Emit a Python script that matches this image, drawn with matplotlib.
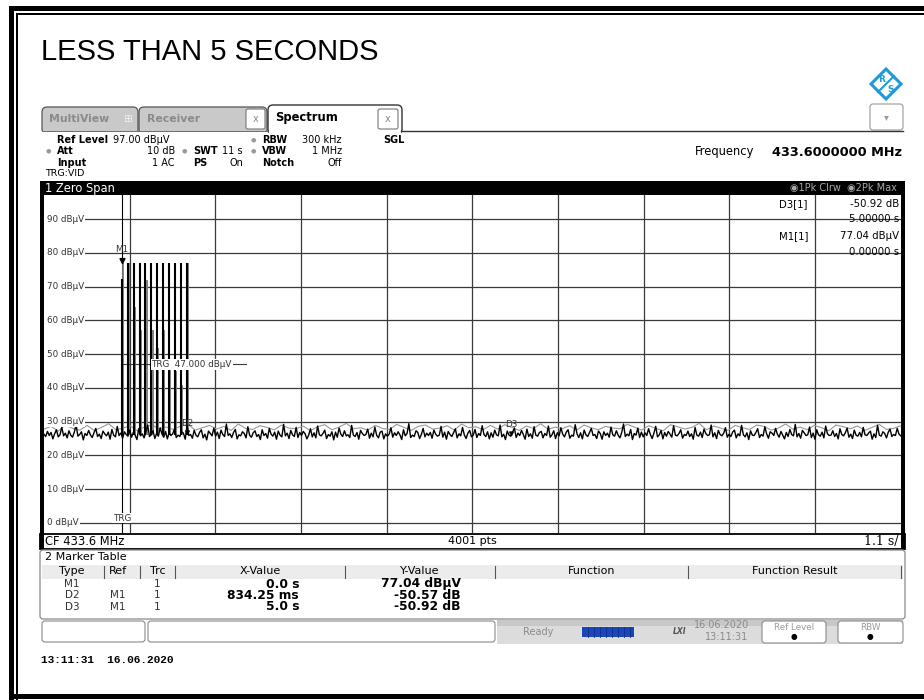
import matplotlib
matplotlib.use("Agg")
import matplotlib.pyplot as plt
from matplotlib.patches import Rectangle, FancyBboxPatch, Polygon
from matplotlib.path import Path

# ------------------------------------------------------------------ data
t_start, t_stop = -1.0, 10.0
ref_level, level_bottom = 97.0, -3.0
grid_levels = [0, 10, 20, 30, 40, 50, 60, 70, 80, 90]
grid_level_labels = ["0 dBµV", "10 dBµV", "20 dBµV", "30 dBµV", "40 dBµV",
                     "50 dBµV", "60 dBµV", "70 dBµV", "80 dBµV", "90 dBµV"]
time_grid = [0.1, 1.2, 2.3, 3.4, 4.5, 5.6, 6.7, 7.8, 8.9]

trigger_time = 0.0
trigger_level = 47.0

pulse_times = [0.0, 0.076, 0.152, 0.228, 0.303, 0.379, 0.455, 0.530,
               0.606, 0.682, 0.758, 0.834]
pulse_peak_clrw = [72.1, 77.0, 77.0, 77.0, 77.0, 77.0, 77.0, 77.0,
                   77.0, 77.0, 77.0, 77.0]
pulse_peak_max = [77.0, 77.0, 64.0, 57.0, 72.0, 57.0, 51.7, 57.0,
                  48.0, 45.0, 41.0, 77.0]
pulse_base = 26.0

noise_clrw = [
    26.3, 25.6, 27.1, 25.9, 26.8, 24.9, 26.4, 27.6, 25.5, 26.1, 28.4, 25.8, 26.6, 25.2, 27.3, 26.0, 25.4, 26.9, 29.1, 25.7, 26.2, 27.0, 24.6, 26.5,
    25.9, 27.4, 26.1, 25.3, 26.7, 28.0, 25.6, 26.3, 25.0, 27.2, 26.4, 25.8, 26.9, 24.8, 27.7, 26.0, 25.5, 28.6, 25.9, 26.6, 25.1, 27.0, 26.2, 25.7,
    27.5, 25.4, 26.8, 26.0, 24.7, 27.9, 25.8, 26.4, 25.2, 26.9, 29.0, 25.6, 26.1, 27.3, 25.0, 26.5, 25.7, 28.2, 26.3, 25.4, 27.1, 24.9, 26.7, 25.9,
    26.4, 27.8, 25.3, 26.0, 25.6, 27.0, 26.6, 24.8, 28.8, 25.9, 26.2, 25.1, 27.4, 26.0, 25.5, 26.8, 27.6, 25.2, 26.3, 24.6, 27.2, 26.5, 25.8, 28.1,
    25.7, 26.9, 25.0, 27.5, 26.2, 25.6, 29.3, 25.9, 26.4, 25.3, 26.8, 27.7, 24.9, 26.1, 25.8, 27.0, 26.5, 25.2, 28.5, 26.0, 25.4, 26.7, 27.3, 25.6,
    26.2, 24.7, 27.6, 25.9, 26.5, 25.1, 28.0, 26.3, 25.7, 26.9, 24.8, 27.2, 26.0, 25.5, 29.2, 25.8, 26.6, 25.0, 27.4, 26.1, 25.6, 28.3, 25.3, 26.8,
    25.9, 27.1, 26.4, 24.9, 26.0, 27.9, 25.5, 26.7, 25.2, 28.7, 26.1, 25.8, 26.5, 27.5, 25.0, 26.2, 25.7, 27.0, 24.6, 26.9, 25.4, 28.1, 26.3, 25.6,
    27.3, 25.8, 26.1, 25.3, 28.9, 26.0, 25.6, 26.8, 24.8, 27.4, 26.5, 25.9, 26.2, 27.8, 25.1, 26.6, 25.5, 28.4, 26.0, 25.2, 26.9, 27.2, 24.9, 26.4,
    25.7, 26.3, 28.2, 25.4, 26.7, 25.9, 27.0, 26.1, 24.7, 27.6, 25.8, 26.5, 29.4, 25.3, 26.0, 25.6, 27.3, 26.8, 25.0, 26.2, 28.0, 25.5, 26.6, 25.9,
    26.8, 25.1, 27.5, 26.3, 25.7, 26.0, 28.6, 25.4, 26.9, 24.8, 27.1, 26.2, 25.6, 26.7, 27.9, 25.2, 26.4, 25.8, 28.3, 26.1, 25.0, 26.6, 27.4, 25.5,
    26.0, 27.7, 25.3, 26.5, 25.9, 28.8, 26.2, 25.6, 27.0, 24.9, 26.7, 25.4, 27.5, 26.1, 25.8, 29.0, 25.5, 26.3, 24.7, 27.2, 26.0, 25.7, 26.9, 28.1,
    25.3, 26.6, 25.9, 27.4, 26.2, 24.8, 27.8, 25.6, 26.4, 25.1, 28.5, 26.0, 25.7, 26.8, 27.1, 25.2, 26.5, 25.9, 28.7, 25.4, 26.1, 27.3, 25.0, 26.7,
    25.8, 28.2, 26.3, 25.5, 26.9, 27.6, 25.1, 26.0, 25.7, 29.1, 26.4, 25.3, 26.7, 24.9, 27.5, 26.1, 25.6, 26.8, 28.0, 25.9, 26.2, 25.0, 27.2, 26.5,
    24.8, 27.0, 25.9, 26.6, 25.4, 28.4, 26.1, 25.7, 27.3, 26.0, 25.2, 26.8, 29.3, 25.6, 26.3, 25.8, 27.7, 24.7, 26.5, 26.0, 28.1, 25.3, 26.9, 25.5,
    26.7, 25.9, 27.9, 26.2, 25.0, 26.6, 28.6, 25.5, 26.1, 27.4, 24.9, 26.8, 25.7, 27.1, 26.3, 25.4, 28.8, 26.0, 25.8, 26.5, 27.6, 25.1, 26.2, 25.9,
    27.2, 25.6, 26.4, 24.8, 28.3, 26.0, 25.7, 26.9, 25.3, 27.8, 26.5, 25.9, 26.1, 29.0, 25.5, 26.7, 25.0, 27.4, 26.2, 25.8, 26.6, 28.2, 25.4, 26.3,
    25.6, 26.9, 27.5, 25.2, 26.4, 25.8, 28.9, 26.1, 25.5, 26.7, 24.7, 27.3, 26.0, 25.9, 26.8, 27.9, 25.3, 26.2, 25.7, 28.5, 26.4, 25.1, 27.0, 26.6,
    25.9, 28.0, 26.3, 25.4, 27.1, 26.0, 24.9, 26.8, 25.6, 27.7, 26.2, 25.8, 29.2, 25.5, 26.5, 25.1, 27.4, 26.7, 25.9, 26.1, 28.4, 25.3, 26.6, 24.8,
    27.6, 26.1, 25.7, 26.9, 25.2, 28.7, 26.4, 25.9, 26.0, 27.3, 25.6, 26.5, 24.9, 27.9, 26.2, 25.8, 26.7, 28.1, 25.4, 26.3, 25.0, 27.5, 26.0, 25.7,
    26.8, 25.5, 28.3, 26.1, 25.9, 26.6, 27.2, 24.8, 26.4, 25.3, 28.9, 26.0, 25.7, 27.0, 26.5, 25.2, 26.9, 27.8, 25.6, 26.2, 25.9, 28.0, 26.3, 25.8,
]
noise_max = [
    27.8, 28.6, 27.2, 29.1, 28.0, 27.5, 28.9, 27.4, 28.3, 29.4, 27.6, 28.1, 28.8, 27.3, 28.5, 29.0, 27.9, 28.4, 27.7, 28.7,
    29.2, 27.5, 28.2, 28.9, 27.8, 28.6, 27.4, 29.3, 28.0, 27.7, 28.8, 28.3, 27.6, 29.0, 28.1, 27.9, 28.7, 27.3, 28.5, 29.1,
    27.6, 28.4, 29.5, 27.9, 28.2, 27.5, 28.9, 28.0, 27.7, 29.2, 28.3, 27.4, 28.6, 29.0, 27.8, 28.1, 28.8, 27.5, 29.3, 28.2,
    28.5, 27.6, 28.9, 27.8, 29.1, 28.3, 27.4, 28.7, 28.0, 29.4, 27.7, 28.4, 27.9, 28.8, 27.5, 29.0, 28.2, 27.6, 28.6, 28.1,
    27.9, 29.2, 28.4, 27.5, 28.8, 28.0, 27.3, 29.1, 28.5, 27.8, 28.3, 29.5, 27.6, 28.7, 28.1, 27.4, 28.9, 28.2, 27.7, 29.0,
    28.6, 27.5, 28.1, 29.3, 27.8, 28.4, 27.6, 28.9, 28.2, 27.3, 29.0, 28.5, 27.9, 28.7, 27.4, 28.3, 29.2, 27.7, 28.0, 28.8,
]

marker_names = ["M1", "D2", "D3"]
marker_refs = ["", "M1", "M1"]
marker_trc = ["1", "1", "1"]
marker_times = [0.0, 0.83425, 5.0]
marker_x_text = ["0.0 s", "834.25 ms", "5.0 s"]
marker_y_text = ["77.04 dBµV", "-50.57 dB", "-50.92 dB"]
marker_levels = [77.04, 77.04 - 50.57, 77.04 - 50.92]

# ------------------------------------------------------------------ figure
W, H = 924, 700
fig = plt.figure(figsize=(W / 100, H / 100), dpi=100)
fig.patch.set_facecolor("white")

bg = fig.add_axes([0, 0, 1, 1], zorder=0)
bg.set_xlim(0, W); bg.set_ylim(H, 0); bg.axis("off")
fg = fig.add_axes([0, 0, 1, 1], zorder=5)
fg.set_xlim(0, W); fg.set_ylim(H, 0); fg.axis("off")

SANS = "DejaVu Sans"


def rect(a, x0, y0, x1, y1, fc="black", ec="none", lw=0, z=1):
    a.add_patch(Rectangle((x0, y0), x1 - x0, y1 - y0, facecolor=fc,
                          edgecolor=ec, linewidth=lw, zorder=z))


def rbox(a, x0, y0, x1, y1, fc="white", ec="#888888", lw=0.8, r=3, z=2):
    a.add_patch(FancyBboxPatch((x0, y0), x1 - x0, y1 - y0,
                               boxstyle=f"round,pad=0,rounding_size={r}",
                               facecolor=fc, edgecolor=ec, linewidth=lw, zorder=z))


def txt(a, x, y, s, size=7, ha="left", weight="normal", color="black",
        family=SANS, z=6, **kw):
    a.text(x, y, s, fontsize=size, ha=ha, va="center", fontweight=weight,
           color=color, family=family, zorder=z, **kw)


# outer frame
rect(bg, 9, 6, 14, 700)
rect(bg, 9, 6, 924, 11)
rect(bg, 16, 13, 18, 700)
rect(bg, 16, 13, 924, 15)
rect(bg, 9, 694, 924, 699)

# title
txt(bg, 41, 52, "LESS THAN 5 SECONDS", size=21, family="Liberation Sans")

# R&S logo
logo_c = "#1e9bd7"
bg.add_patch(Polygon([(886, 69), (901, 84), (886, 99), (871, 84)], closed=True,
                     fill=False, edgecolor=logo_c, linewidth=2.2, zorder=3))
bg.plot([878, 894], [92, 76], color=logo_c, lw=1.5, zorder=3)
txt(bg, 882, 79, "R", size=6.5, ha="center", weight="bold", color=logo_c)
txt(bg, 891, 89, "S", size=6.5, ha="center", weight="bold", color=logo_c)

# dropdown
rbox(bg, 870, 104, 903, 130, ec="#9a9a9a")
txt(bg, 886, 117, "▾", size=7, ha="center", color="#9a9a9a")

# tabs
rbox(bg, 42, 107, 138, 134, fc="#c9c9c9", ec="#555555", lw=0.9, r=5)
txt(bg, 49, 119, "MultiView", size=7.8, weight="bold", color="#8a8a8a")
txt(bg, 127, 119, "⊞", size=7.5, ha="center", color="#f0f0f0")
rbox(bg, 139, 107, 267, 134, fc="#c9c9c9", ec="#555555", lw=0.9, r=5)
txt(bg, 147, 119, "Receiver", size=7.8, weight="bold", color="#8a8a8a")
rbox(bg, 246, 109, 265, 129, fc="white", ec="#777777", lw=0.8, r=2, z=3)
txt(bg, 255.5, 119, "x", size=7, ha="center", color="#8a8a8a")
rbox(bg, 268, 105, 402, 134, fc="white", ec="#333333", lw=1.0, r=5)
txt(bg, 275, 118, "Spectrum", size=8.3, weight="bold")
rbox(bg, 378, 109, 398, 129, fc="white", ec="#777777", lw=0.8, r=2, z=3)
txt(bg, 388, 119, "x", size=7, ha="center", color="#8a8a8a")
rect(bg, 40, 131, 268, 181, fc="white", z=2)
rect(bg, 269, 131, 401, 181, fc="white", z=2)
bg.plot([401, 903], [131, 131], color="#333333", lw=1.0, zorder=3)
bg.plot([42, 268], [131, 131], color="#555555", lw=0.6, zorder=3)

# instrument settings
dot = "#9a9a9a"
txt(bg, 57, 140, "Ref Level", size=7, weight="bold")
txt(bg, 113, 140, "97.00 dBµV", size=7)
txt(bg, 253, 140, "●", size=4.5, ha="center", color=dot)
txt(bg, 262, 140, "RBW", size=7, weight="bold")
txt(bg, 342, 140, "300 kHz", size=7, ha="right")
txt(bg, 383, 140, "SGL", size=7, weight="bold")

txt(bg, 48, 151, "●", size=4.5, ha="center", color=dot)
txt(bg, 57, 151, "Att", size=7, weight="bold")
txt(bg, 175, 151, "10 dB", size=7, ha="right")
txt(bg, 184, 151, "●", size=4.5, ha="center", color=dot)
txt(bg, 193, 151, "SWT", size=7, weight="bold")
txt(bg, 222, 151, "11 s", size=7)
txt(bg, 253, 151, "●", size=4.5, ha="center", color=dot)
txt(bg, 262, 151, "VBW", size=7, weight="bold")
txt(bg, 342, 151, "1 MHz", size=7, ha="right")

txt(bg, 57, 163, "Input", size=7, weight="bold")
txt(bg, 175, 163, "1 AC", size=7, ha="right")
txt(bg, 193, 163, "PS", size=7, weight="bold")
txt(bg, 230, 163, "On", size=7)
txt(bg, 262, 163, "Notch", size=7, weight="bold")
txt(bg, 342, 163, "Off", size=7, ha="right")

txt(bg, 45, 174, "TRG:VID", size=6.8)

txt(bg, 695, 152, "Frequency", size=8.3)
txt(bg, 902, 152, "433.6000000 MHz", size=9.3, ha="right", weight="bold")

# diagram frame
rect(bg, 40, 181, 905, 195)
txt(bg, 45, 188.5, "1 Zero Span", size=8.3, color="white")
txt(bg, 897, 188.5, "◉1Pk Clrw  ◉2Pk Max", size=7, ha="right", color="#a8a8a8")
rect(bg, 40, 534, 905, 549, fc="white", ec="black", lw=1.3, z=2)
rect(bg, 40, 181, 44, 549, z=3)
rect(bg, 901, 181, 905, 549, z=3)
txt(bg, 45, 541.5, "CF 433.6 MHz", size=8.3)
txt(bg, 472, 541.5, "4001 pts", size=8, ha="center")
txt(bg, 899, 541.5, "1.1 s/", size=9, ha="right", family="DejaVu Serif")

# ------------------------------------------------------------------ data axes
x_left_px, x_right_px = 43.9, 900.8
y_top_px, y_bot_px = 195.4, 533.1
ax = fig.add_axes([x_left_px / W, 1 - y_bot_px / H,
                   (x_right_px - x_left_px) / W, (y_bot_px - y_top_px) / H],
                  zorder=2)
ax.patch.set_alpha(0)
ax.set_xlim(t_start, t_stop)
ax.set_ylim(level_bottom, ref_level)
for s in ax.spines.values():
    s.set_visible(False)
ax.set_xticks([]); ax.set_yticks([])

grid_c = "#3a3a3a"
ax.hlines(grid_levels, t_start + 0.06, t_stop, color=grid_c, lw=0.9, zorder=1)
for tg in time_grid:
    ax.axvline(tg, color=grid_c, lw=0.9, zorder=1)
for lv, lab in zip(grid_levels, grid_level_labels):
    ax.text(t_start + 0.04, lv, lab, fontsize=6.3, color="#333333", va="center",
            ha="left", family=SANS, zorder=4,
            bbox=dict(facecolor="white", edgecolor="none", pad=0.8))

# trigger time line
ax.axvline(trigger_time, color="black", lw=0.8, zorder=2)
ax.annotate("TRG", xy=(trigger_time, 0), xytext=(0, 3.5), textcoords="offset points",
            fontsize=6.3, color="#333333", ha="center", va="center", zorder=4,
            bbox=dict(facecolor="white", edgecolor="none", pad=0.5))

# noise traces
n_max = len(noise_max)
t_max = [t_start + i * (t_stop - t_start) / (n_max - 1) for i in range(n_max)]
ax.plot(t_max, noise_max, color="#9a9a9a", lw=0.8, zorder=2)
n_clr = len(noise_clrw)
t_clr = [t_start + i * (t_stop - t_start) / (n_clr - 1) for i in range(n_clr)]
ax.plot(t_clr, noise_clrw, color="black", lw=1.0, zorder=3)

# pulses
ax.vlines([t + 0.016 for t in pulse_times], pulse_base, pulse_peak_max,
          color="#7a7a7a", lw=1.3, zorder=2)
ax.vlines(pulse_times, pulse_base, pulse_peak_clrw, color="black", lw=1.5, zorder=3)

# trigger level line
ax.plot([trigger_time, 1.6], [trigger_level, trigger_level], color=grid_c, lw=0.8,
        zorder=2)
ax.text(0.38, trigger_level, "TRG  47.000 dBµV", fontsize=6.3, color="#333333",
        va="center", ha="left", zorder=4,
        bbox=dict(facecolor="white", edgecolor="none", pad=0.6))

# markers
tri = Path([(-0.5, 1.0), (0.5, 1.0), (0.0, 0.0), (-0.5, 1.0)],
           [Path.MOVETO, Path.LINETO, Path.LINETO, Path.CLOSEPOLY])
for i, (nm, tm, lv) in enumerate(zip(marker_names, marker_times, marker_levels)):
    ms = 7 if i == 0 else 5
    ax.plot([tm], [lv], marker=tri, markersize=ms, color="black", zorder=5,
            linestyle="none")
    ax.annotate(nm, xy=(tm, lv), xytext=(0, 9.5 if i == 0 else 7.5),
                textcoords="offset points", fontsize=6.3, color="#333333",
                ha="center", va="center", zorder=5)

# marker info box (top right)
txt(fg, 808, 204, "D3[1]", size=7.3, ha="right")
txt(fg, 899, 204, "-50.92 dB", size=7.3, ha="right")
txt(fg, 899, 219, "5.00000 s", size=7.3, ha="right")
txt(fg, 808, 236, "M1[1]", size=7.3, ha="right")
txt(fg, 899, 236, "77.04 dBµV", size=7.3, ha="right")
txt(fg, 899, 252, "0.00000 s", size=7.3, ha="right")

# ------------------------------------------------------------------ marker table
rbox(bg, 40, 550, 905, 619, fc="white", ec="#8a8a8a", lw=0.9, r=3)
txt(bg, 45, 557, "2 Marker Table", size=8)
rect(bg, 42, 565, 903, 579, fc="#ececec", z=3)
headers = ["Type", "Ref", "Trc", "X-Value", "Y-Value", "Function", "Function Result"]
header_x = [72, 118, 158, 260, 420, 592, 795]
for hx, h in zip(header_x, headers):
    txt(bg, hx, 571.5, h, size=8, ha="center")
for sx in [104, 140, 175, 345, 495, 688, 901]:
    bg.plot([sx, sx], [566, 578], color="#555555", lw=0.8, zorder=4)
row_y = [584, 595.5, 607]
for ry, nm, rf, tr, xv, yv in zip(row_y, marker_names, marker_refs, marker_trc,
                                   marker_x_text, marker_y_text):
    txt(bg, 72, ry, nm, size=7.5, ha="center", color="#333333")
    txt(bg, 118, ry, rf, size=7.5, ha="center", color="#333333")
    txt(bg, 157, ry, tr, size=7.5, ha="center", color="#333333")
    txt(bg, 299, ry, xv, size=8.8, ha="right", weight="bold")
    txt(bg, 461, ry, yv, size=8.8, ha="right", weight="bold")

# ------------------------------------------------------------------ status bar
rect(bg, 497, 620, 903, 644, fc="#dcdcdc", z=1)
rect(bg, 497, 620, 903, 626, fc="#c8c8c8", z=1)
rbox(bg, 42, 621, 145, 642, fc="white", ec="#8a8a8a", lw=0.8, r=3)
rbox(bg, 148, 621, 495, 642, fc="white", ec="#8a8a8a", lw=0.8, r=3)
txt(bg, 538, 632, "Ready", size=7, ha="center", color="#8a8a8a")
rect(bg, 582, 627, 634, 637, fc="#1b45b8", z=3)
for bx in range(588, 634, 6):
    bg.plot([bx, bx], [627, 637], color="#0f2f8a", lw=0.6, zorder=4)
txt(bg, 680, 631, "LXI", size=5.5, ha="center", weight="bold", color="#555555",
    style="italic")
txt(bg, 722, 625.5, "16.06.2020", size=7, ha="center", color="#8a8a8a")
txt(bg, 727, 637, "13:11:31", size=7, ha="center", color="#8a8a8a")
rbox(bg, 762, 621, 826, 643, fc="white", ec="#8a8a8a", lw=0.8, r=3)
txt(bg, 794, 627.5, "Ref Level", size=6.3, ha="center", color="#9a9a9a")
txt(bg, 794, 636.5, "●", size=5.5, ha="center", color="black")
rbox(bg, 838, 621, 903, 643, fc="white", ec="#8a8a8a", lw=0.8, r=3)
txt(bg, 870, 627.5, "RBW", size=6.3, ha="center", color="#9a9a9a")
txt(bg, 870, 636.5, "●", size=5.5, ha="center", color="black")

txt(bg, 41, 660, "13:11:31  16.06.2020", size=8, weight="bold",
    family="Liberation Mono")

fig.savefig("out.png", dpi=100)
